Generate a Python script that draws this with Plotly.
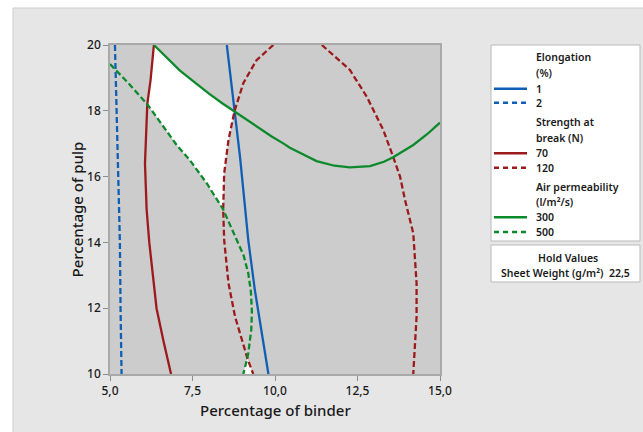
import plotly.graph_objects as go

# ---------------- data ----------------
x_ticks = [5, 7.5, 10, 12.5, 15]
x_ticktext = ["5,0", "7,5", "10,0", "12,5", "15,0"]
y_ticks = [10, 12, 14, 16, 18, 20]
y_ticktext = ["10", "12", "14", "16", "18", "20"]

# Elongation (%) contours
elong1_x = [8.54, 8.64, 8.79, 8.94, 9.04, 9.19, 9.39, 9.60, 9.80]
elong1_y = [20.0, 19.14, 17.97, 16.6, 15.59, 14.07, 12.55, 11.24, 10.0]
elong2_x = [5.15, 5.20, 5.27, 5.30, 5.32, 5.35]
elong2_y = [20.0, 18.0, 16.0, 14.0, 12.0, 10.0]

# Strength at break (N) contours
str70_x = [6.33, 6.23, 6.13, 6.08, 6.06, 6.11, 6.19, 6.30, 6.41, 6.62, 6.85]
str70_y = [20.0, 18.94, 18.2, 17.0, 16.4, 15.0, 14.0, 13.0, 12.0, 11.0, 10.0]
str120_left_x = [9.95, 9.44, 9.04, 8.77, 8.59, 8.46, 8.43, 8.46, 8.59, 8.79, 9.09, 9.16, 9.34]
str120_left_y = [20.0, 19.54, 18.84, 17.98, 17.11, 16.1, 15.0, 14.07, 12.76, 11.74, 10.73, 10.48, 10.0]
str120_right_x = [11.42, 11.85, 12.27, 12.78, 13.28, 13.58, 13.79, 13.94, 14.19, 14.29, 14.30, 14.29, 14.19]
str120_right_y = [20.0, 19.6, 19.24, 18.43, 17.42, 16.6, 16.0, 15.29, 14.28, 12.76, 12.2, 11.74, 10.0]

# Air permeability (l/m2/s) contours
air300_x = [6.33, 6.8, 7.12, 7.5, 8.0, 8.4, 8.77, 9.1, 9.45, 9.9, 10.25, 10.45, 10.8,
            11.26, 11.8, 12.27, 12.88, 13.3, 13.58, 14.19, 14.6, 15.0]
air300_y = [20.0, 19.55, 19.22, 18.92, 18.52, 18.23, 17.98, 17.74, 17.52, 17.22, 17.01, 16.88, 16.7,
            16.47, 16.33, 16.28, 16.32, 16.45, 16.59, 16.96, 17.28, 17.64]
air500_x = [5.0, 5.5, 6.13, 6.5, 7.02, 7.42, 7.93, 8.43, 8.84, 9.05, 9.19, 9.27, 9.30, 9.28, 9.19, 9.16, 9.04]
air500_y = [19.42, 18.9, 18.2, 17.7, 16.96, 16.5, 15.8, 15.0, 14.07, 13.6, 13.06, 12.5, 11.9, 11.34, 10.63, 10.48, 10.0]

hold_label = "Sheet Weight (g/m²)"
hold_value = "22,5"

# ---------------- colours ----------------
BLUE = "#115fb5"
RED = "#9c1a1c"
GREEN = "#0b8a2b"
TXT = "#1a1a1a"
FONT = "Noto Sans"

# feasible (white) region built from the contour pieces
reg_x = (air300_x[0:7] + str120_left_x[4:7] + air500_x[6:1:-1] + str70_x[1::-1])
reg_y = (air300_y[0:7] + str120_left_y[4:7] + air500_y[6:1:-1] + str70_y[1::-1])
reg2_x = air500_x[-2:] + str120_left_x[-1:]
reg2_y = air500_y[-2:] + str120_left_y[-1:]

fig = go.Figure()
for rx, ry in [(reg_x, reg_y), (reg2_x, reg2_y)]:
    fig.add_trace(go.Scatter(x=rx, y=ry, mode="lines", fill="toself", fillcolor="white",
                             line=dict(width=0, color="white"), hoverinfo="skip", showlegend=False))

LW = 2.3
DASH = "6px,3px"
curves = [
    (elong2_x, elong2_y, BLUE, DASH),
    (elong1_x, elong1_y, BLUE, "solid"),
    (str120_left_x, str120_left_y, RED, DASH),
    (str120_right_x, str120_right_y, RED, DASH),
    (str70_x, str70_y, RED, "solid"),
    (air500_x, air500_y, GREEN, DASH),
    (air300_x, air300_y, GREEN, "solid"),
]
for cx, cy, col, dash in curves:
    fig.add_trace(go.Scatter(x=cx, y=cy, mode="lines", line=dict(color=col, width=LW, dash=dash),
                             showlegend=False, hoverinfo="skip"))

# ---------------- layout helpers (pixel -> paper) ----------------
L, R, T, B = 110, 440, 45, 374
W, H = 643, 432


def PX(p):
    return (p - L) / (R - L)


def PY(p):
    return (B - p) / (B - T)


shapes = [
    dict(type="rect", xref="paper", yref="paper", x0=PX(13), x1=PX(660), y0=PY(450), y1=PY(8),
         fillcolor="#e6e6e6", line=dict(color="#cfcfcf", width=1), layer="below"),
    dict(type="rect", xref="paper", yref="paper", x0=0, x1=1, y0=0, y1=1,
         fillcolor="#cccccc", line=dict(width=0), layer="below"),
    dict(type="rect", xref="paper", yref="paper", x0=PX(491), x1=PX(640), y0=PY(241), y1=PY(45),
         fillcolor="white", line=dict(color="#b9b9b9", width=1), layer="below"),
    dict(type="rect", xref="paper", yref="paper", x0=PX(491), x1=PX(640), y0=PY(282), y1=PY(245),
         fillcolor="white", line=dict(color="#b9b9b9", width=1), layer="below"),
]

annotations = []


def txt(x, y, s, anchor="left", size=10, weight=600, angle=0, color=TXT):
    annotations.append(dict(xref="paper", yref="paper", x=PX(x), y=PY(y),
                            text=s, showarrow=False,
                            xanchor=anchor, yanchor="middle", textangle=angle,
                            font=dict(family=FONT, size=size, color=color, weight=weight)))


legend_items = [
    ("title", "Elongation", 56.7),
    ("title", "(%)", 72.7),
    ("line", "1", 88.7, BLUE, "solid"),
    ("line", "2", 102.7, BLUE, "dash"),
    ("title", "Strength at", 121.7),
    ("title", "break (N)", 137.7),
    ("line", "70", 153.3, RED, "solid"),
    ("line", "120", 167.7, RED, "dash"),
    ("title", "Air permeability", 186.7),
    ("title", "(l/m²/s)", 202.0),
    ("line", "300", 217.3, GREEN, "solid"),
    ("line", "500", 232.0, GREEN, "dash"),
]
for it in legend_items:
    txt(534, it[2], it[1], size=10.5)
    if it[0] == "line":
        shapes.append(dict(type="line", xref="paper", yref="paper", x0=PX(494), x1=PX(527),
                           y0=PY(it[2]), y1=PY(it[2]),
                           line=dict(color=it[3], width=2.5,
                                     dash="solid" if it[4] == "solid" else "5px,4px")))

txt(567.5, 258.3, "Hold Values", anchor="center", size=10.5)
txt(565.5, 272.7, hold_label + "  " + hold_value, anchor="center", size=10.5)

# axis titles
txt((L + R) / 2, 410, "Percentage of binder", anchor="center", size=15, weight=500)
txt(76, (T + B) / 2, "Percentage of pulp", anchor="center", size=15, weight=500, angle=-90)

axis_common = dict(showgrid=False, zeroline=False, showline=True, linecolor="#a9a9a9",
                   linewidth=1.5, mirror=True, ticks="outside", ticklen=5, tickwidth=1,
                   tickcolor="#8c8c8c",
                   tickfont=dict(family=FONT, size=12, color=TXT, weight=500))

fig.update_layout(
    width=W, height=H,
    margin=dict(l=L, r=W - R, t=T, b=H - B, pad=0),
    paper_bgcolor="white",
    plot_bgcolor="rgba(0,0,0,0)",
    showlegend=False,
    xaxis=dict(range=[5, 15], tickvals=x_ticks, ticktext=x_ticktext, **axis_common),
    yaxis=dict(range=[10, 20], tickvals=y_ticks, ticktext=y_ticktext, **axis_common),
    shapes=shapes,
    annotations=annotations,
)

fig.write_html("out.html")
